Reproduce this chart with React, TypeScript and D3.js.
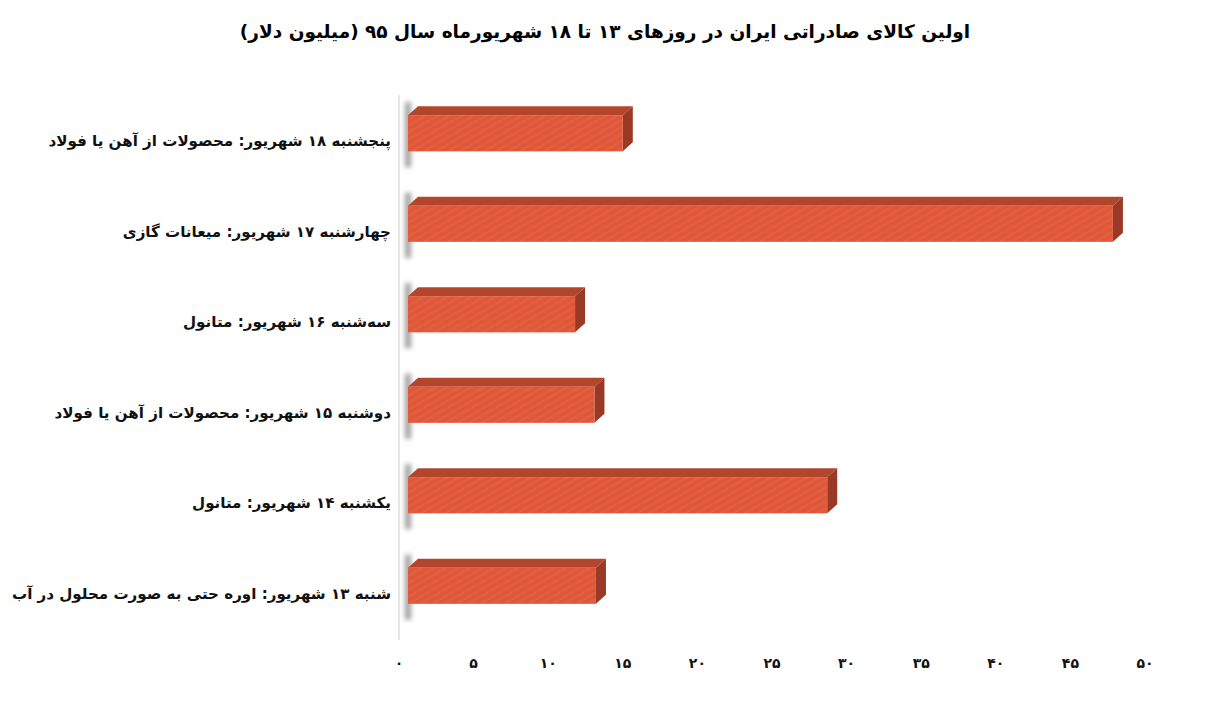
import * as React from 'react'
import * as d3 from 'd3'

const TITLE = 'اولین کالای صادراتی ایران در روزهای ۱۳ تا ۱۸ شهریورماه سال ۹۵ (میلیون دلار)'

const categories = [
    'پنجشنبه ۱۸ شهریور: محصولات از آهن یا فولاد',
    'چهارشنبه ۱۷ شهریور: میعانات گازی',
    'سه‌شنبه ۱۶ شهریور: متانول',
    'دوشنبه ۱۵ شهریور: محصولات از آهن یا فولاد',
    'یکشنبه ۱۴ شهریور: متانول',
    'شنبه ۱۳ شهریور: اوره حتی به صورت محلول در آب',
]

const values = [15.0, 47.85, 11.8, 13.1, 28.7, 13.2]

const xTicks = [0, 5, 10, 15, 20, 25, 30, 35, 40, 45, 50]

const toFa = (n: number) => String(n).replace(/\d/g, d => '۰۱۲۳۴۵۶۷۸۹'[+d])

export default function App() {
    const W = 1208
    const H = 715
    const DX = 10
    const DY = 9
    const FONT = '"DejaVu Sans", sans-serif'

    const x = d3.scaleLinear().domain([0, 50]).range([399, 1145])
    const y = d3.scaleBand<string>()
        .domain(categories)
        .range([88, 631])
        .paddingInner(0.6)
        .paddingOuter(0.3)
    const bw = y.bandwidth()

    return <svg width={W} height={H} viewBox={`0 0 ${W} ${H}`}
        style={{ position: 'absolute', left: 0, top: 0, background: '#fff' }}>
        <defs>
            <pattern id="tex" width="6" height="6" patternUnits="userSpaceOnUse" patternTransform="rotate(-30)">
                <rect width="6" height="6" fill="#e0593b" />
                <line x1="0" y1="1" x2="6" y2="1" stroke="#e9704f" strokeWidth="1" opacity="0.45" />
                <line x1="0" y1="4" x2="6" y2="4" stroke="#d0492f" strokeWidth="1" opacity="0.3" />
            </pattern>
            <filter id="blur" x="-2" y="-1" width="5" height="3">
                <feGaussianBlur stdDeviation="2.5" />
            </filter>
        </defs>

        <text x={W / 2 + 1} y={38} textAnchor="middle" direction="rtl"
            fontFamily={FONT} fontWeight="bold" fontSize={18.5}>{TITLE}</text>

        <line x1={x(0)} x2={x(0)} y1={95} y2={640} stroke="#cfcfcf" strokeWidth={1} />

        {categories.map((c, i) => {
            const y0 = y(c) as number
            const x0 = x(0) + DX - 1
            const x1 = x(values[i])
            const top = `M${x0},${y0} L${x0 + DX},${y0 - DY} L${x1 + DX},${y0 - DY} L${x1},${y0} Z`
            const side = `M${x1},${y0} L${x1 + DX},${y0 - DY} L${x1 + DX},${y0 + bw - DY} L${x1},${y0 + bw} Z`
            return <g key={i}>
                <rect x={x0 - 3} y={y0 - DY - 4} width={6} height={bw + DY + 20}
                    fill="#777" opacity={0.7} filter="url(#blur)" />
                <path d={top} fill="#b4452d" />
                <path d={side} fill="#9a3925" />
                <rect x={x0} y={y0} width={x1 - x0} height={bw} fill="url(#tex)" />
                <text x={391} y={y0 + bw / 2 + 13} textAnchor="start" direction="rtl"
                    fontFamily={FONT} fontWeight="bold" fontSize={15.1} fill="#111">{c}</text>
            </g>
        })}

        {xTicks.map(t =>
            <text key={t} x={x(t)} y={668} textAnchor="middle"
                fontFamily={FONT} fontWeight="bold" fontSize={14} fill="#111">{toFa(t)}</text>
        )}
    </svg>
}
